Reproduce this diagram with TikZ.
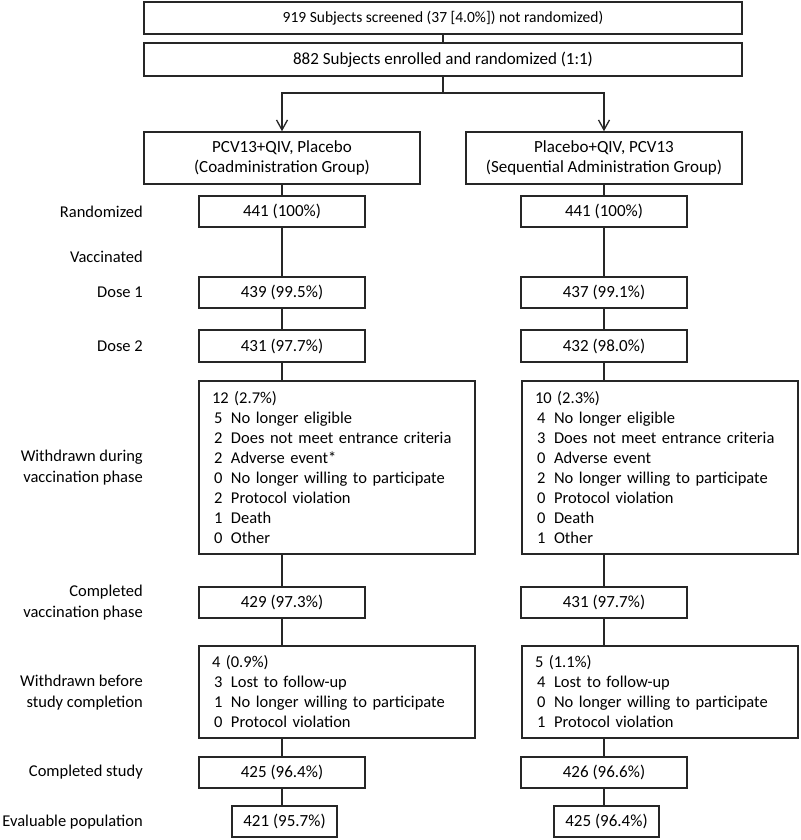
\documentclass[tikz,border=0pt]{standalone}
\usepackage{fontspec}
\setmainfont{Carlito}
\usetikzlibrary{arrows.meta}

\newcommand{\itm}[2]{\hspace*{2pt}\makebox[17pt][l]{#1}#2}

\begin{document}
\begin{tikzpicture}[x=1pt,y=-1pt,
	box/.style={draw=black!85,line width=1.5pt,inner sep=0pt,align=center,
		font=\fontsize{17}{20}\selectfont},
	listbox/.style={box,align=left,minimum width=276,text width=250,inner xsep=13pt,
		font=\fontsize{16.5}{20}\selectfont},
	lbl/.style={anchor=east,align=right,inner sep=0pt,font=\fontsize{16.5}{21}\selectfont},
	link/.style={draw=black!85,line width=1.5pt},
	arr/.style={link,-{Straight Barb[length=10pt,width=11pt,line width=1.3pt]}}]
			\useasboundingbox (0,0) rectangle (800,840);
			\node[box,minimum width=598,minimum height=32,font=\fontsize{15.5}{20}\selectfont] (screen) at (443,18) {919 Subjects screened (37 [4.0\%]) not randomized)};
			\node[box,minimum width=598,minimum height=33] (enrol) at (443,59.5) {882 Subjects enrolled and randomized (1:1)};
			\coordinate (split) at (443,93);
			\coordinate (cl) at (282,0);
			\coordinate (cr) at (604,0);
			\node[box,minimum width=276,minimum height=52] (coad) at (282,158) {PCV13+QIV, Placebo\\(Coadministration Group)};
			\node[box,minimum width=276,minimum height=52] (seq) at (604,158) {Placebo+QIV, PCV13\\(Sequential Administration Group)};
			% row labels
			\node[lbl] (lrand) at (143,212) {Randomized};
			\node[lbl] (lvacc) at (143,257) {Vaccinated};
			\node[lbl] (ldose1) at (143,292.5) {Dose 1};
			\node[lbl] (ldose2) at (143,346) {Dose 2};
			\node[lbl] (lwdv) at (143,468) {Withdrawn during\\vaccination phase};
			\node[lbl] (lcvp) at (143,603) {Completed\\vaccination phase};
			\node[lbl] (lwbs) at (143,693) {Withdrawn before\\study completion};
			\node[lbl] (lcs) at (143,772.5) {Completed study};
			\node[lbl] (lev) at (143,822) {Evaluable population};
			% left column
			\node[box,minimum width=166,minimum height=31] (randl) at (282,211.5) {441 (100\%)};
			\node[box,minimum width=166,minimum height=31] (doseal) at (282,292.5) {439 (99.5\%)};
			\node[box,minimum width=166,minimum height=32] (dosebl) at (282,346) {431 (97.7\%)};
			\node[listbox,minimum height=173] (wdvl) at (337,467.5) {12 (2.7\%)\\
				\itm{5}{No longer eligible}\\
				\itm{2}{Does not meet entrance criteria}\\
				\itm{2}{Adverse event*}\\
				\itm{0}{No longer willing to participate}\\
				\itm{2}{Protocol violation}\\
				\itm{1}{Death}\\
				\itm{0}{Other}};
			\node[box,minimum width=166,minimum height=31] (cvpl) at (282,602.5) {429 (97.3\%)};
			\node[listbox,minimum height=92] (wbsl) at (337,692) {4 (0.9\%)\\
				\itm{3}{Lost to follow-up}\\
				\itm{1}{No longer willing to participate}\\
				\itm{0}{Protocol violation}};
			\node[box,minimum width=166,minimum height=31] (csl) at (282,772.5) {425 (96.4\%)};
			\node[box,minimum width=105,minimum height=31] (evl) at (284.5,821.5) {421 (95.7\%)};
			% right column
			\node[box,minimum width=166,minimum height=31] (randr) at (604,211.5) {441 (100\%)};
			\node[box,minimum width=166,minimum height=31] (dosear) at (604,292.5) {437 (99.1\%)};
			\node[box,minimum width=166,minimum height=32] (dosebr) at (604,346) {432 (98.0\%)};
			\node[listbox,minimum height=173] (wdvr) at (660,467.5) {10 (2.3\%)\\
				\itm{4}{No longer eligible}\\
				\itm{3}{Does not meet entrance criteria}\\
				\itm{0}{Adverse event}\\
				\itm{2}{No longer willing to participate}\\
				\itm{0}{Protocol violation}\\
				\itm{0}{Death}\\
				\itm{1}{Other}};
			\node[box,minimum width=166,minimum height=31] (cvpr) at (604,602.5) {431 (97.7\%)};
			\node[listbox,minimum height=92] (wbsr) at (660,692) {5 (1.1\%)\\
				\itm{4}{Lost to follow-up}\\
				\itm{0}{No longer willing to participate}\\
				\itm{1}{Protocol violation}};
			\node[box,minimum width=166,minimum height=31] (csr) at (604,772.5) {426 (96.6\%)};
			\node[box,minimum width=105,minimum height=31] (evr) at (606.5,821.5) {425 (96.4\%)};
			% connectors
			\draw[link] (screen) -- (enrol);
			\draw[link] (enrol) -- (split);
			\draw[arr] (split) -| (coad.north);
			\draw[arr] (split) -| (seq.north);
			\foreach \a/\b in {coad/randl,randl/doseal,doseal/dosebl,dosebl/wdvl,wdvl/cvpl,cvpl/wbsl,wbsl/csl,csl/evl}
				\draw[link] (cl |- \a.south) -- (cl |- \b.north);
			\foreach \a/\b in {seq/randr,randr/dosear,dosear/dosebr,dosebr/wdvr,wdvr/cvpr,cvpr/wbsr,wbsr/csr,csr/evr}
				\draw[link] (cr |- \a.south) -- (cr |- \b.north);
		\end{tikzpicture}
\end{document}
